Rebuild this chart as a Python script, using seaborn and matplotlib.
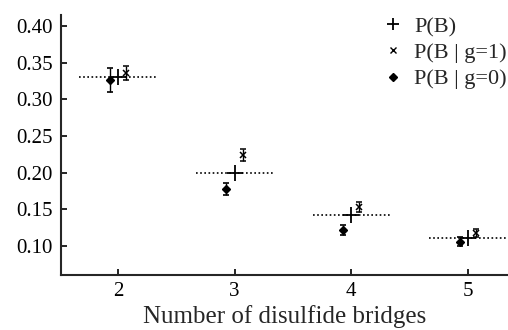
import numpy as np
import pandas as pd
import seaborn as sns
import matplotlib.pyplot as plt
from matplotlib.lines import Line2D

# values
bridges = [2, 3, 4, 5]
p_b = [0.331, 0.200, 0.143, 0.111]
p_b_g1 = [0.336, 0.224, 0.153, 0.118]
p_b_g1_err = [0.010, 0.008, 0.007, 0.006]
p_b_g0 = [0.326, 0.178, 0.122, 0.106]
p_b_g0_err = [0.016, 0.008, 0.007, 0.006]

sns.set_style("ticks")
plt.rcParams['font.family'] = ['Liberation Serif', 'DejaVu Serif']

df = pd.DataFrame({'bridges': bridges, 'p_b': p_b,
                   'g1': p_b_g1, 'g1_err': p_b_g1_err,
                   'g0': p_b_g0, 'g0_err': p_b_g0_err})

fig = plt.figure(figsize=(5.08, 3.30), dpi=100)
ax = fig.add_axes([0.120, 0.1667, 0.880, 0.788])

offset = 0.07
half = 0.33

# dotted horizontal guide for P(B)
ax.hlines(df['p_b'], df['bridges'] - half, df['bridges'] + half,
          colors='black', linestyles=(0, (1, 1.5)), linewidth=1.2)

sns.scatterplot(data=df, x='bridges', y='p_b', marker='+', s=120,
                color='black', linewidth=1.3, ax=ax, legend=False, zorder=3)

ax.errorbar(df['bridges'] + offset, df['g1'], yerr=df['g1_err'], fmt='x',
            color='black', ms=5, mew=1.1, elinewidth=1, capsize=2.5, capthick=1.2)
ax.errorbar(df['bridges'] - offset, df['g0'], yerr=df['g0_err'], fmt='D',
            color='black', ms=4.5, elinewidth=1, capsize=2.5, capthick=1.2)

ax.set_xlim(1.512, 5.343)
ax.set_ylim(0.0608, 0.4149)
ax.set_xticks(bridges)
ax.set_yticks([0.10, 0.15, 0.20, 0.25, 0.30, 0.35, 0.40])
ax.set_yticklabels(["%.2f" % v for v in ax.get_yticks()])
ax.tick_params(direction='in', length=4, width=1.2, labelsize=15, pad=6, colors='black')
ax.tick_params(axis='x', pad=5)
for s in ['left', 'bottom']:
    ax.spines[s].set_linewidth(1.5)
sns.despine(ax=ax)

ax.set_xlabel('Number of disulfide bridges', fontsize=18, labelpad=3)
ax.set_ylabel('')

handles = [
    Line2D([], [], ls='none', marker='+', color='black', ms=9, mew=1.3),
    Line2D([], [], ls='none', marker='x', color='black', ms=4.5, mew=1.0),
    Line2D([], [], ls='none', marker='D', color='black', ms=4),
]
fig.legend(handles, ['P(B)', 'P(B | g=1)', 'P(B | g=0)'],
           loc='upper right', bbox_to_anchor=(0.998, 0.95), frameon=False,
           fontsize=16, handlelength=0.8, handletextpad=0.55,
           labelspacing=0.25, borderpad=0.0, borderaxespad=0.0)

fig.savefig('out.png', dpi=100)
